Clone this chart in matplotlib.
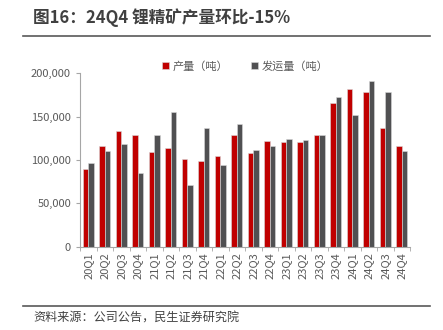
import numpy as np
import matplotlib.pyplot as plt
from matplotlib.ticker import FuncFormatter

plt.rcParams['font.family'] = ['Noto Sans CJK SC', 'DejaVu Sans']

# quarterly output and shipments (tonnes)
quarters = ['20Q1', '20Q2', '20Q3', '20Q4', '21Q1', '21Q2', '21Q3', '21Q4',
            '22Q1', '22Q2', '22Q3', '22Q4', '23Q1', '23Q2', '23Q3', '23Q4',
            '24Q1', '24Q2', '24Q3', '24Q4']
production = [89600, 116500, 133500, 129200, 109600, 114200, 101500, 98500,
              104200, 128500, 108500, 121500, 120400, 120400, 128500, 166200,
              182300, 178500, 136500, 116500]
shipments = [96200, 110400, 118500, 85400, 128500, 155400, 71200, 136500,
             93800, 141500, 111200, 116500, 124600, 122700, 128500, 172300,
             152300, 190800, 178500, 110400]

red = '#C00000'
grey = '#505052'
txt = '#595959'

fig = plt.figure(figsize=(4.43, 3.30), dpi=100)
ax = fig.add_axes([80/443, 1-246.7/330, 330/443, 173.4/330])

x = np.arange(len(quarters))
w = 0.32
ax.bar(x - w/2, production, w, color=red, label='产量（吨）',
       edgecolor='#d9d9d9', linewidth=0.4)
ax.bar(x + w/2, shipments, w, color=grey, label='发运量（吨）',
       edgecolor='#d9d9d9', linewidth=0.4)

ax.set_xlim(-0.5, len(quarters) - 0.5)
ax.set_ylim(0, 200000)
ax.set_yticks(np.arange(0, 200001, 50000))
ax.yaxis.set_major_formatter(FuncFormatter(lambda v, p: f'{int(v):,}'))
ax.set_xticks(x)
ax.set_xticklabels(quarters, rotation=90)
ax.set_xticks(np.arange(-0.5, len(quarters)), minor=True)
ax.tick_params(axis='x', which='major', length=0, pad=4, labelsize=8, labelcolor=txt)
ax.tick_params(axis='x', which='minor', length=3, color='#a6a6a6', direction='out')
ax.tick_params(axis='y', length=3, color='#a6a6a6', labelsize=8, labelcolor=txt)

for s in ['top', 'right']:
    ax.spines[s].set_visible(False)
for s in ['left', 'bottom']:
    ax.spines[s].set_color('#a6a6a6')
    ax.spines[s].set_linewidth(0.8)

ax.legend(loc='upper center', bbox_to_anchor=(0.5, 1.13), ncol=2, frameon=False,
          fontsize=8, handlelength=0.7, handleheight=0.7, handletextpad=0.3,
          columnspacing=2.0, labelcolor=txt)

# header and footer
fig.text(33/443, 1-18/330, '图16：24Q4 锂精矿产量环比-15%', fontsize=12,
         fontweight='bold', color='#404040', va='center')
fig.add_artist(plt.Line2D([23/443, 430/443], [1-36/330, 1-36/330],
                          color='#595959', linewidth=1.2))
fig.add_artist(plt.Line2D([23/443, 430/443], [1-306/330, 1-306/330],
                          color='#595959', linewidth=1.2))
fig.text(33/443, 1-318/330, '资料来源：公司公告，民生证券研究院', fontsize=8.7,
         color='#404040', va='center')

fig.savefig('out.png', dpi=100)
